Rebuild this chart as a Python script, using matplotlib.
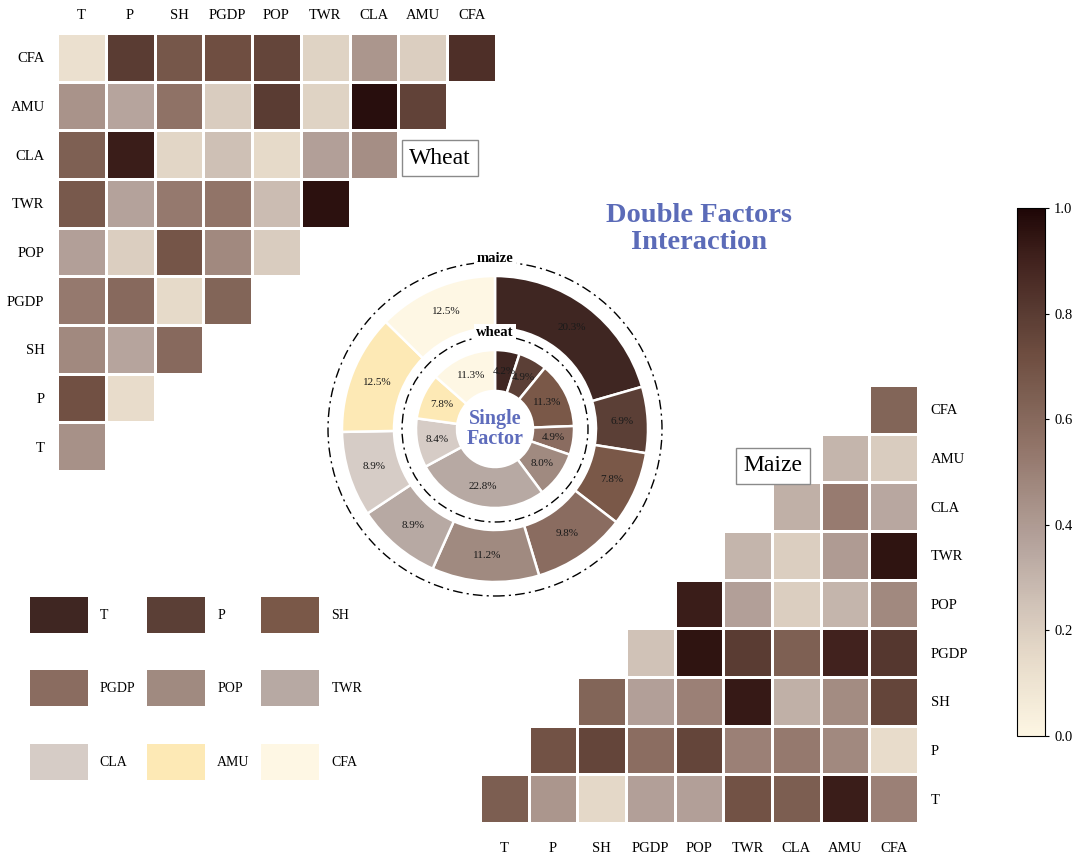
import numpy as np
import matplotlib
matplotlib.use("Agg")
import matplotlib.pyplot as plt
from matplotlib.colors import LinearSegmentedColormap
from matplotlib.patches import Patch, Circle

plt.rcParams['font.family'] = ['Liberation Serif', 'DejaVu Serif']

# ---------------- data ----------------
factors = ['T', 'P', 'SH', 'PGDP', 'POP', 'TWR', 'CLA', 'AMU', 'CFA']
N = np.nan

# rows in factor order (T first = bottom row), columns in factor order
wheat_matrix = [
    [0.44, N, N, N, N, N, N, N, N],                          # T
    [0.71, 0.14, N, N, N, N, N, N, N],                       # P
    [0.47, 0.36, 0.60, N, N, N, N, N, N],                    # SH
    [0.53, 0.60, 0.15, 0.62, N, N, N, N, N],                 # PGDP
    [0.38, 0.20, 0.69, 0.47, 0.21, N, N, N, N],              # POP
    [0.67, 0.37, 0.53, 0.55, 0.27, 0.96, N, N, N],           # TWR
    [0.64, 0.92, 0.17, 0.26, 0.15, 0.38, 0.45, N, N],        # CLA
    [0.43, 0.36, 0.56, 0.21, 0.80, 0.18, 0.97, 0.77, N],     # AMU
    [0.12, 0.80, 0.68, 0.72, 0.76, 0.18, 0.42, 0.20, 0.85],  # CFA
]

maize_matrix = [
    [0.65, 0.42, 0.16, 0.38, 0.38, 0.70, 0.65, 0.92, 0.50],  # T
    [N, 0.70, 0.76, 0.58, 0.76, 0.50, 0.53, 0.47, 0.14],     # P
    [N, N, 0.62, 0.38, 0.50, 0.93, 0.32, 0.46, 0.76],        # SH
    [N, N, N, 0.25, 0.95, 0.80, 0.64, 0.90, 0.82],           # PGDP
    [N, N, N, N, 0.92, 0.38, 0.20, 0.30, 0.47],              # POP
    [N, N, N, N, N, 0.30, 0.20, 0.40, 0.95],                 # TWR
    [N, N, N, N, N, N, 0.32, 0.52, 0.35],                    # CLA
    [N, N, N, N, N, N, N, 0.30, 0.21],                       # AMU
    [N, N, N, N, N, N, N, N, 0.62],                          # CFA
]

# single-factor contributions (%)
maize_single = [20.3, 6.9, 7.8, 9.8, 11.2, 8.9, 8.9, 12.5, 12.5]
wheat_single = [4.2, 4.9, 11.3, 4.9, 8.0, 22.8, 8.4, 7.8, 11.3]

factor_colors = ['#3f2622', '#5b3f36', '#7a5848', '#8a6c60', '#a08a80',
                 '#b7a9a3', '#d6ccc6', '#fde9b5', '#fef7e4']

cmap = LinearSegmentedColormap.from_list('brown', [
    (0.00, '#fdf6e3'), (0.15, '#e6dac9'), (0.25, '#d0c2b7'),
    (0.35, '#b8a7a0'), (0.45, '#a58e85'), (0.55, '#917468'),
    (0.65, '#7c5e51'), (0.72, '#6f4e41'), (0.80, '#5a3c33'),
    (0.90, '#42231e'), (1.00, '#1e0606')])

W, H = 1080, 867
fig = plt.figure(figsize=(W / 100, H / 100), dpi=100)


def fax(x0, y0, x1, y1):
    """axes from pixel box (left, top, right, bottom)"""
    return fig.add_axes([x0 / W, 1 - y1 / H, (x1 - x0) / W, (y1 - y0) / H])


label_fs = 10.5
edges = np.arange(len(factors) + 1)
centers = np.arange(len(factors)) + 0.5

# ---------------- wheat heatmap ----------------
axw = fax(57, 33, 496, 471)
mw = np.ma.masked_invalid(np.array(wheat_matrix))
mesh = axw.pcolormesh(edges, edges, mw, cmap=cmap, vmin=0, vmax=1,
                      edgecolors='white', linewidth=2)
axw.set_xlim(0, 9)
axw.set_ylim(0, 9)
axw.xaxis.tick_top()
axw.set_xticks(centers)
axw.set_xticklabels(factors, fontsize=label_fs)
axw.set_yticks(centers)
axw.set_yticklabels(factors, fontsize=label_fs)
axw.tick_params(axis='x', length=0, pad=8)
axw.tick_params(axis='y', length=0, pad=9)
for s in axw.spines.values():
    s.set_visible(False)

# ---------------- maize heatmap ----------------
axm = fax(480, 385, 918, 823)
mm = np.ma.masked_invalid(np.array(maize_matrix))
axm.pcolormesh(edges, edges, mm, cmap=cmap, vmin=0, vmax=1,
               edgecolors='white', linewidth=2)
axm.set_xlim(0, 9)
axm.set_ylim(0, 9)
axm.yaxis.tick_right()
axm.set_xticks(centers)
axm.set_xticklabels(factors, fontsize=label_fs)
axm.set_yticks(centers)
axm.set_yticklabels(factors, fontsize=label_fs)
axm.tick_params(axis='x', length=0, pad=14)
axm.tick_params(axis='y', length=0, pad=9)
for s in axm.spines.values():
    s.set_visible(False)

# crop labels
box = dict(boxstyle='square,pad=0.3', fc='white', ec='#8a8a8a', lw=1)
fig.text(440 / W, 1 - 158 / H, 'Wheat', fontsize=17, ha='center', va='center', bbox=box)
fig.text(773 / W, 1 - 466 / H, 'Maize', fontsize=17, ha='center', va='center', bbox=box)

# ---------------- colorbar ----------------
cax = fax(1017, 208, 1045, 736)
cb = fig.colorbar(mesh, cax=cax, ticks=[0, 0.2, 0.4, 0.6, 0.8, 1.0])
cb.ax.tick_params(labelsize=10.5, length=3, width=0.8)
cb.outline.set_linewidth(0.8)
cb.ax.set_yticklabels(['0.0', '0.2', '0.4', '0.6', '0.8', '1.0'])

# ---------------- donut ----------------
cxp, cyp, half = 495, 429, 185
axd = fax(cxp - half, cyp - half, cxp + half, cyp + half)

R_out, w_out = 153, 52
R_in, w_in = 79, 41

it_m = iter(maize_single)
axd.pie(maize_single, radius=R_out, colors=factor_colors, startangle=90,
        counterclock=False,
        wedgeprops=dict(width=w_out, edgecolor='white', linewidth=1.8),
        autopct=lambda p: f'{next(it_m):.1f}%',
        pctdistance=(R_out - w_out / 2) / R_out,
        textprops=dict(fontsize=8, color='#1a1a1a'))
it_w = iter(wheat_single)
axd.pie(wheat_single, radius=R_in, colors=factor_colors, startangle=90,
        counterclock=False,
        wedgeprops=dict(width=w_in, edgecolor='white', linewidth=1.8),
        autopct=lambda p: f'{next(it_w):.1f}%',
        pctdistance=(R_in - w_in / 2) / R_in,
        textprops=dict(fontsize=8, color='#1a1a1a'))

dash = (0, (7, 3, 1.5, 3))
axd.add_patch(Circle((0, 0), 167, fill=False, ec='black', lw=1, ls=dash))
axd.add_patch(Circle((0, 0), 93, fill=False, ec='black', lw=1, ls=dash))
axd.text(0, 170, 'maize', ha='center', va='center', fontsize=10.5, fontweight='bold',
         bbox=dict(boxstyle='square,pad=0.15', fc='white', ec='none'))
axd.text(0, 96, 'wheat', ha='center', va='center', fontsize=10.5, fontweight='bold',
         bbox=dict(boxstyle='square,pad=0.15', fc='white', ec='none'))
axd.text(0, 0, 'Single\nFactor', ha='center', va='center', fontsize=14.5,
         fontweight='bold', color='#5e6cbc', linespacing=0.95)
axd.set_xlim(-half, half)
axd.set_ylim(-half, half)
axd.set_aspect('equal')
axd.axis('off')

# title
fig.text(699 / W, 1 - 229 / H, 'Double Factors\nInteraction', ha='center', va='center',
         fontsize=20.5, fontweight='bold', color='#5b6bb8', linespacing=1.1)

# ---------------- legend ----------------
handles = [Patch(facecolor=c, edgecolor='none', label=f) for f, c in zip(factors, factor_colors)]
order = [0, 3, 6, 1, 4, 7, 2, 5, 8]
fig.legend([handles[i] for i in order], [factors[i] for i in order],
           loc='upper left', bbox_to_anchor=(30 / W, 1 - 597 / H), ncol=3,
           frameon=False, fontsize=10, handlelength=4.17, handleheight=3.61,
           handletextpad=0.86, labelspacing=2.7, columnspacing=0.85,
           borderpad=0, borderaxespad=0)

fig.savefig('out.png', dpi=100, facecolor='white')
